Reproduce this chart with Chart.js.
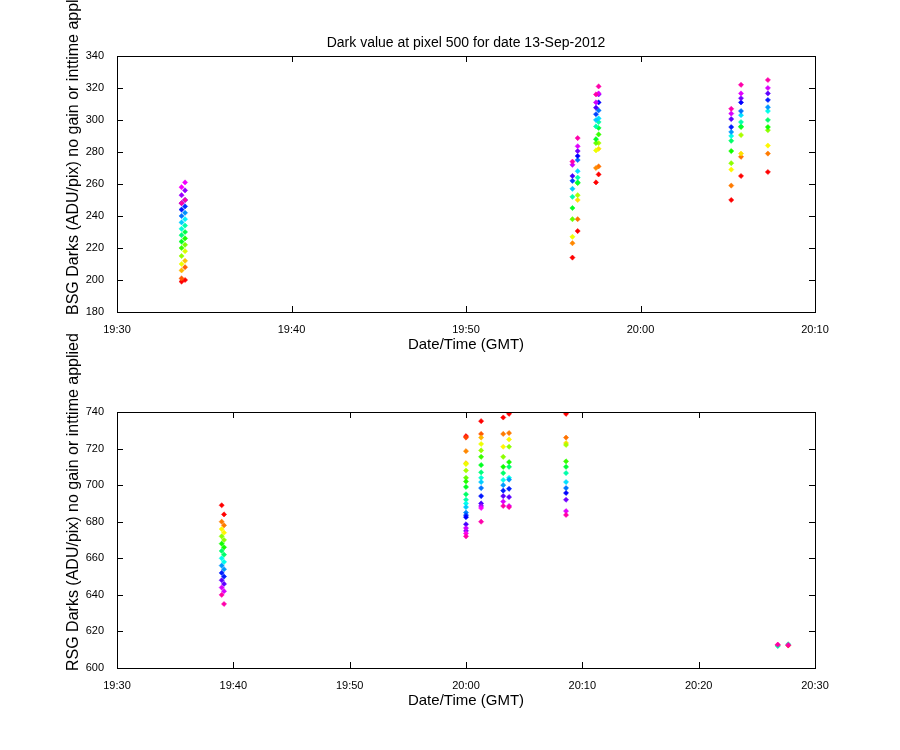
<!DOCTYPE html>
<html>
<head>
<meta charset="utf-8">
<script src="https://cdn.jsdelivr.net/npm/chart.js@4"></script>
<style>
body { margin: 0; background: #fff; }
.box { position: absolute; left: 0; width: 900px; }
</style>
</head>
<body>
<div class="box" style="top:0; height:375px"><canvas id="top"></canvas></div>
<div class="box" style="top:325px; height:425px"><canvas id="bottom"></canvas></div>
<script>
// minutes after 19:30, values listed in colour order (red -> magenta)
const bsgTimes = [3.7, 3.9, 26.1, 26.4, 27.45, 27.6, 35.2, 35.76, 37.3];
const bsgValues = [
    [199, 201, 206, 210, 215, 220, 224, 228, 232, 236, 240, 244, 248, 253, 258, 248],
    [200, 208, 212, 218, 222, 226, 230, 234, 238, 242, 246, 250, 256, 261, 250],
    [214, 223, 227, 238, 245, 252, 257, 262, 265, 272, 274],
    [230.6, 238, 250, 253, 260.6, 261, 264, 268, 275, 277.5, 280.6, 283.6, 288.7],
    [261, 270, 281, 285.6, 288, 296, 300, 303.6, 307.7, 311, 316],
    [266, 271, 282, 285.6, 291, 295, 298.7, 301, 306, 311, 316, 316.6, 321],
    [250, 259, 269, 273, 280.6, 287, 290, 292.5, 295.6, 300.6, 304, 307],
    [265, 277, 279, 290.6, 295.6, 296, 298.7, 303, 305.6, 311, 313.6, 316.6, 322],
    [267.5, 279, 284, 293.6, 295.6, 300, 305.6, 308, 312.5, 316.6, 320, 325]
];
const rsgTimes = [9.0, 9.2, 30.0, 31.3, 33.2, 33.7, 38.6, 56.8, 57.7];
const rsgValues = [
    [689, 680, 676, 672, 668, 664, 660, 656, 652, 648, 644, 640],
    [684, 678, 674, 670, 666, 662, 658, 654, 650, 646, 642, 635],
    [726.8, 726, 718.6, 712, 711.5, 708, 704, 702, 699, 695, 692, 690, 688, 685, 683.6, 682.5, 678.6, 675, 676.5, 673.6, 672],
    [735, 728, 726, 722.5, 719, 715.5, 711, 707, 704, 701.7, 698.4, 694, 690, 688.6, 687.5, 680],
    [737, 728, 721, 715.5, 710, 706.6, 702.8, 700, 697, 694, 691, 688.6],
    [739, 728.5, 725, 721, 712.6, 710, 704, 703, 698, 693.5, 688.6, 688],
    [739, 726, 723, 722, 713, 710, 706.6, 701.7, 698.4, 695.7, 692, 685.8, 683.7],
    [612.5, 612, 612.8],
    [612.3, 613, 612.6]
];
const bsgTicks = [180, 340, 20];
const rsgTicks = [600, 740, 20];

const hueColor = (i, n) => 'hsl(' + Math.round(320 * i / Math.max(n - 1, 1)) + ',100%,50%)';

const makeDatasets = (times, values) => times.map((t, k) => {
    const vals = values[k];
    const cols = vals.map((v, i) => hueColor(i, vals.length));
    return {
        data: vals.map(v => ({x: t, y: v})),
        pointStyle: 'rectRot',
        pointRadius: 2.6,
        pointBackgroundColor: cols,
        pointBorderColor: cols,
        pointBorderWidth: 0.5,
        showLine: false
    };
});

const fmtTime = v => {
    const total = 19 * 60 + 30 + v;
    return Math.floor(total / 60) + ':' + String(total % 60).padStart(2, '0');
};

const FONT = '"Liberation Sans", Arial, sans-serif';

// box, inward ticks, title and axis titles drawn by hand
const framePlugin = {
    id: 'frame',
    afterDraw(chart, args, opts) {
        const c = chart.ctx, a = chart.chartArea;
        c.save();
        c.strokeStyle = '#000';
        c.lineWidth = 1;
        c.strokeRect(a.left + 0.5, a.top + 0.5, a.right - a.left, a.bottom - a.top);
        c.beginPath();
        chart.scales.x.ticks.forEach(t => {
            const px = Math.round(chart.scales.x.getPixelForValue(t.value)) + 0.5;
            c.moveTo(px, a.bottom); c.lineTo(px, a.bottom - 6);
            c.moveTo(px, a.top); c.lineTo(px, a.top + 6);
        });
        chart.scales.y.ticks.forEach(t => {
            const py = Math.round(chart.scales.y.getPixelForValue(t.value)) + 0.5;
            c.moveTo(a.left, py); c.lineTo(a.left + 6, py);
            c.moveTo(a.right, py); c.lineTo(a.right - 6, py);
        });
        c.stroke();
        c.fillStyle = '#000';
        c.textBaseline = 'alphabetic';
        if (opts.text) {
            c.font = '14px ' + FONT;
            c.textAlign = 'center';
            c.fillText(opts.text, (a.left + a.right) / 2, 47);
        }
        c.font = '15px ' + FONT;
        c.textAlign = 'center';
        c.fillText('Date/Time (GMT)', (a.left + a.right) / 2, a.bottom + 37);
        c.font = '16px ' + FONT;
        c.translate(78, a.bottom + 3);
        c.rotate(-Math.PI / 2);
        c.textAlign = 'left';
        c.fillText(opts.yTitle, 0, 0);
        c.restore();
    }
};

const makeChart = (id, times, values, xMax, yT, yTitle, top, xHeight, title) => {
    new Chart(document.getElementById(id), {
        type: 'scatter',
        data: {datasets: makeDatasets(times, values)},
        plugins: [framePlugin],
        options: {
            responsive: true,
            maintainAspectRatio: false,
            animation: false,
            layout: {padding: {top: top, right: 85, left: 0, bottom: 0}},
            plugins: {legend: {display: false}, tooltip: {enabled: false}, frame: {text: title, yTitle: yTitle}},
            scales: {
                x: {
                    type: 'linear', min: 0, max: xMax,
                    grid: {display: false}, border: {display: false},
                    afterBuildTicks: s => { s.ticks = []; for (let v = 0; v <= xMax; v += 10) s.ticks.push({value: v}); },
                    afterFit: s => { s.height = xHeight; },
                    ticks: {color: '#000', font: {size: 11, family: FONT}, callback: v => fmtTime(v), maxRotation: 0, padding: 3}
                },
                y: {
                    min: yT[0], max: yT[1],
                    grid: {display: false}, border: {display: false},
                    afterFit: s => { s.width = 117; },
                    ticks: {stepSize: yT[2], color: '#000', font: {size: 11, family: FONT}, padding: 5}
                }
            }
        }
    });
};

makeChart('top', bsgTimes, bsgValues, 40, bsgTicks,
    'BSG Darks (ADU/pix) no gain or inttime applied', 56, 63, 'Dark value at pixel 500 for date 13-Sep-2012');
makeChart('bottom', rsgTimes, rsgValues, 60, rsgTicks,
    'RSG Darks (ADU/pix) no gain or inttime applied', 87, 82, null);
</script>
</body>
</html>
